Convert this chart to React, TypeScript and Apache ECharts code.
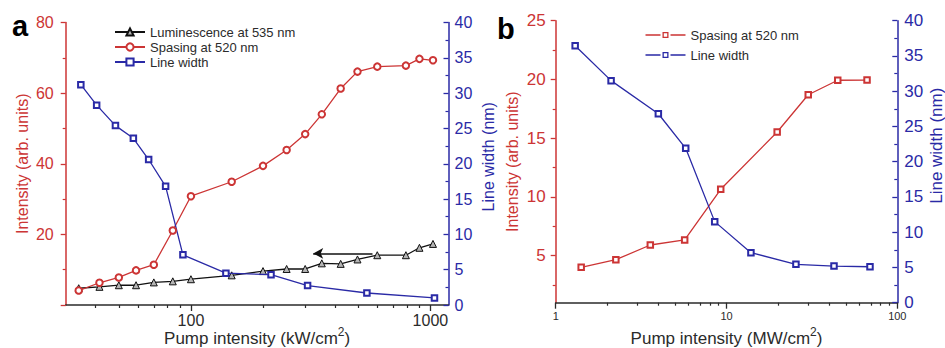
import React, { useEffect, useRef } from "react";
import * as echarts from "echarts";

// ---------- Panel a data ----------
const A_PUMP = [34, 41.5, 50, 59, 70, 84, 100, 148, 200, 251, 300, 352, 422, 496, 600, 790, 900, 1025];
const A_LUMINESCENCE = [4.75, 5.15, 5.6, 5.6, 6.4, 6.7, 7.3, 8.4, 9.6, 10.2, 10.2, 11.8, 11.65, 12.9, 14.1, 14.1, 16.2, 17.3];
const A_SPASING = [4.1, 6.3, 7.8, 9.8, 11.4, 21.1, 30.8, 34.9, 39.4, 43.9, 48.4, 54.0, 61.3, 66.1, 67.5, 67.8, 69.7, 69.3];
const A_LW_PUMP = [34.7, 40.4, 48.4, 57.5, 66.6, 78.4, 92.6, 140, 216, 307, 543, 1040];
const A_LINEWIDTH = [31.2, 28.3, 25.4, 23.6, 20.6, 16.8, 7.1, 4.5, 4.3, 2.75, 1.7, 1.0];
const A_ARROW_FROM = [573, 14.6];
const A_ARROW_TO = [324, 14.6];

// ---------- Panel b data ----------
const B_SP_PUMP = [1.41, 2.25, 3.58, 5.69, 9.25, 19.8, 30.1, 44.8, 66.5];
const B_SPASING = [4.01, 4.66, 5.91, 6.34, 10.65, 15.53, 18.7, 19.93, 19.95];
const B_LW_PUMP = [1.3, 2.11, 3.99, 5.77, 8.53, 13.9, 25.5, 42.6, 69.2];
const B_LINEWIDTH = [36.45, 31.5, 26.8, 21.9, 11.5, 7.1, 5.45, 5.2, 5.1];

// ---------- Tick values ----------
const A_X_MAJOR = [100, 1000];
const A_X_MINOR = [40, 50, 60, 70, 80, 90, 200, 300, 400, 500, 600, 700, 800, 900];
const B_X_MAJOR = [1, 10, 100];
const B_X_MINOR = [2, 3, 4, 5, 6, 7, 8, 9, 20, 30, 40, 50, 60, 70, 80, 90];
const B_Y_MAJOR = [5, 10, 15, 20, 25];
const B_Y_MINOR = [2.5, 7.5, 12.5, 17.5, 22.5];

const NAMES = {
  lum: "Luminescence at 535 nm",
  sp: "Spasing at 520 nm",
  lw: "Line width",
};

const FONT = "'Liberation Sans', Arial, Helvetica, sans-serif";
const RED = "#cc3535";
const BLUE = "#2a2aa6";
const DARK = "#2b2b2b";

// legend glyph "— □ —" for panel b (line, gap, hollow square, gap, line)
const GAPPED_ICON =
  "path://M0 2.35H15V3.65H0Z M17 0H23V6H17Z M18.3 1.3V4.7H21.7V1.3Z M25 2.35H40V3.65H25Z";

const zip = (xs: number[], ys: number[]) => xs.map((x, i) => [x, ys[i]]);

function xName(unit: string) {
  return `{n|Pump intensity (${unit}/cm}{s|2}{n|)}`;
}

export default function App() {
  const ref = useRef<HTMLDivElement>(null);
  useEffect(() => {
    if (!ref.current) return;
    document.body.style.margin = "0";
    const chart = echarts.init(ref.current, undefined, { renderer: "svg" });

    const xRich = {
      n: { fontSize: 17, color: DARK, fontFamily: FONT },
      s: { fontSize: 12, color: DARK, fontFamily: FONT, padding: [0, 0, 13, 0] },
    };
    const majorX = (grid: number, min: number, max: number, ticks: number[], fs: number, name: string, gap: number, margin: number) => ({
      type: "log",
      logBase: 10,
      gridIndex: grid,
      min,
      max,
      position: "bottom",
      axisLine: { show: true, onZero: false, lineStyle: { color: DARK, width: 1.5 } },
      axisTick: { show: true, customValues: ticks, length: 6, lineStyle: { color: DARK, width: 1.3 } },
      axisLabel: { show: true, customValues: ticks, fontSize: fs, color: DARK, margin, formatter: (v: number) => String(Math.round(v)) },
      splitLine: { show: false },
      minorTick: { show: false },
      name,
      nameLocation: "middle",
      nameGap: gap,
      nameMoveOverlap: false,
      nameTextStyle: { rich: xRich },
    });
    const minorX = (grid: number, min: number, max: number, ticks: number[]) => ({
      type: "log",
      logBase: 10,
      gridIndex: grid,
      min,
      max,
      position: "bottom",
      axisLine: { show: false, onZero: false },
      axisTick: { show: true, customValues: ticks, length: 3, lineStyle: { color: DARK, width: 1.2 } },
      axisLabel: { show: false },
      splitLine: { show: false },
    });

    const option: any = {
      animation: false,
      backgroundColor: "#fff",
      textStyle: { fontFamily: FONT },
      grid: [
        { left: 65.7, right: 496.5, top: 22.5, bottom: 43, outerBoundsMode: "none", containLabel: false },
        { left: 555.7, right: 47.7, top: 20.7, bottom: 45.3, outerBoundsMode: "none", containLabel: false },
      ],
      legend: [
        {
          orient: "vertical",
          left: 114,
          top: 25.5,
          padding: 0,
          itemWidth: 30,
          itemHeight: 9,
          itemGap: 2,
          data: [NAMES.lum, NAMES.sp, NAMES.lw],
          textStyle: { fontSize: 13, color: DARK, fontFamily: FONT },
        },
        {
          orient: "vertical",
          left: 645.5,
          top: 28.5,
          padding: 0,
          itemWidth: 40,
          itemHeight: 6,
          itemGap: 7,
          itemStyle: { borderWidth: 0 },
          data: [
            { name: NAMES.sp + " (b)", icon: GAPPED_ICON },
            { name: NAMES.lw + " (b)", icon: GAPPED_ICON },
          ],
          formatter: (n: string) => n.replace(" (b)", ""),
          textStyle: { fontSize: 13, color: DARK, fontFamily: FONT },
        },
      ],
      xAxis: [
        majorX(0, 30, 1190, A_X_MAJOR, 16, xName("kW"), 21, 7),
        minorX(0, 30, 1190, A_X_MINOR),
        majorX(1, 1, 100, B_X_MAJOR, 11, xName("MW"), 23, 8),
        minorX(1, 1, 100, B_X_MINOR),
      ],
      yAxis: [
        {
          type: "value",
          gridIndex: 0,
          position: "left",
          min: 0,
          max: 80,
          interval: 20,
          axisLine: { show: true, onZero: false, lineStyle: { color: RED, width: 1.5 } },
          axisTick: { show: true, length: 5, lineStyle: { color: RED, width: 1.3 } },
          minorTick: { show: true, splitNumber: 2, length: 3, lineStyle: { color: RED, width: 1.2 } },
          axisLabel: { color: RED, fontSize: 16, margin: 12, formatter: (v: number) => (v === 0 ? "" : String(v)) },
          splitLine: { show: false },
          name: "Intensity (arb. units)",
          nameLocation: "middle",
          nameRotate: 90,
          nameGap: 35,
          nameMoveOverlap: false,
          nameTextStyle: { color: RED, fontSize: 16 },
        },
        {
          type: "value",
          gridIndex: 0,
          position: "right",
          min: 0,
          max: 40,
          interval: 5,
          axisLine: { show: true, onZero: false, lineStyle: { color: BLUE, width: 1.5 } },
          axisTick: { show: true, inside: true, length: 5, lineStyle: { color: BLUE, width: 1.3 } },
          minorTick: { show: true, splitNumber: 2, length: 3, lineStyle: { color: BLUE, width: 1.2 } },
          axisLabel: { color: BLUE, fontSize: 16, margin: 6 },
          splitLine: { show: false },
          name: "Line width (nm)",
          nameLocation: "middle",
          nameRotate: 90,
          nameGap: 32,
          nameMoveOverlap: false,
          nameTextStyle: { color: BLUE, fontSize: 16, padding: [0, 0, 0, 14] },
        },
        {
          type: "value",
          gridIndex: 1,
          position: "left",
          min: 1,
          max: 25,
          axisLine: { show: true, onZero: false, lineStyle: { color: RED, width: 1.5 } },
          axisTick: { show: true, customValues: B_Y_MAJOR, length: 5, lineStyle: { color: RED, width: 1.3 } },
          axisLabel: { color: RED, fontSize: 17, margin: 10, customValues: B_Y_MAJOR },
          splitLine: { show: false },
          name: "Intensity (arb. units)",
          nameLocation: "middle",
          nameRotate: 90,
          nameGap: 35,
          nameMoveOverlap: false,
          nameTextStyle: { color: RED, fontSize: 16 },
        },
        {
          type: "value",
          gridIndex: 1,
          position: "left",
          min: 1,
          max: 25,
          axisLine: { show: false, onZero: false },
          axisTick: { show: true, customValues: B_Y_MINOR, length: 3, lineStyle: { color: RED, width: 1.2 } },
          axisLabel: { show: false },
          splitLine: { show: false },
        },
        {
          type: "value",
          gridIndex: 1,
          position: "right",
          min: 0,
          max: 40,
          interval: 5,
          axisLine: { show: true, onZero: false, lineStyle: { color: BLUE, width: 1.5 } },
          axisTick: { show: true, inside: true, length: 5, lineStyle: { color: BLUE, width: 1.3 } },
          minorTick: { show: true, splitNumber: 2, length: 3, lineStyle: { color: BLUE, width: 1.2 } },
          axisLabel: { color: BLUE, fontSize: 17, margin: 7 },
          splitLine: { show: false },
          name: "Line width (nm)",
          nameLocation: "middle",
          nameRotate: 90,
          nameGap: 31,
          nameMoveOverlap: false,
          nameTextStyle: { color: BLUE, fontSize: 17, padding: [0, 0, 0, 32] },
        },
      ],
      series: [
        {
          name: NAMES.lum,
          type: "line",
          xAxisIndex: 0,
          yAxisIndex: 0,
          data: zip(A_PUMP, A_LUMINESCENCE),
          symbol: "triangle",
          symbolSize: 7,
          lineStyle: { color: "#111", width: 1.3 },
          itemStyle: { color: "#b4b4b4", borderColor: "#111", borderWidth: 1 },
          z: 3,
          markLine: {
            silent: true,
            symbol: ["none", "arrow"],
            symbolSize: [8, 10],
            label: { show: false },
            lineStyle: { color: "#111", width: 1.6, type: "solid" },
            data: [[{ coord: A_ARROW_FROM }, { coord: A_ARROW_TO }]],
          },
        },
        {
          name: NAMES.sp,
          type: "line",
          xAxisIndex: 0,
          yAxisIndex: 0,
          data: zip(A_PUMP, A_SPASING),
          symbol: "emptyCircle",
          symbolSize: 6.5,
          lineStyle: { color: RED, width: 1.3 },
          itemStyle: { color: RED, borderWidth: 1.3 },
          z: 4,
        },
        {
          name: NAMES.lw,
          type: "line",
          xAxisIndex: 0,
          yAxisIndex: 1,
          data: zip(A_LW_PUMP, A_LINEWIDTH),
          symbol: "emptyRect",
          symbolSize: 5.5,
          lineStyle: { color: BLUE, width: 1.3 },
          itemStyle: { color: BLUE, borderWidth: 1.3 },
          z: 4,
        },
        {
          name: NAMES.sp + " (b)",
          type: "line",
          xAxisIndex: 2,
          yAxisIndex: 2,
          data: zip(B_SP_PUMP, B_SPASING),
          symbol: "emptyRect",
          symbolSize: 5.5,
          lineStyle: { color: RED, width: 1.3 },
          itemStyle: { color: RED, borderWidth: 1.3 },
        },
        {
          name: NAMES.lw + " (b)",
          type: "line",
          xAxisIndex: 2,
          yAxisIndex: 4,
          data: zip(B_LW_PUMP, B_LINEWIDTH),
          symbol: "emptyRect",
          symbolSize: 5.5,
          lineStyle: { color: BLUE, width: 1.3 },
          itemStyle: { color: BLUE, borderWidth: 1.3 },
        },
      ],
      graphic: [
        { type: "text", left: 12, top: 11, style: { text: "a", font: `bold 29px ${FONT}`, fill: "#000" } },
        { type: "text", left: 497, top: 14, style: { text: "b", font: `bold 29px ${FONT}`, fill: "#000" } },
      ],
    };
    chart.setOption(option);
    return () => chart.dispose();
  }, []);
  return <div ref={ref} style={{ width: 945, height: 348 }} />;
}
